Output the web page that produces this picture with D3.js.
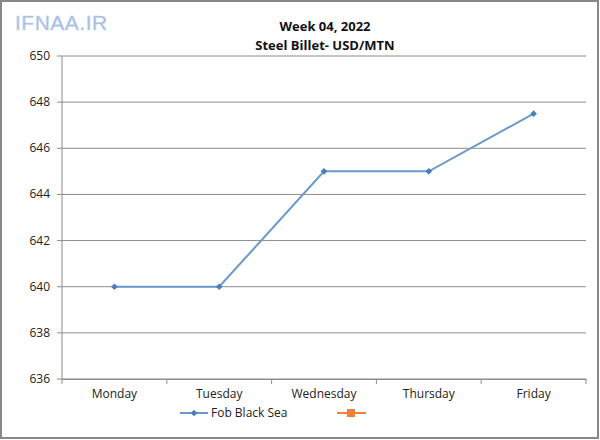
<!DOCTYPE html>
<html>
<head>
<meta charset="utf-8">
<script src="https://cdn.jsdelivr.net/npm/d3@7"></script>
<style>
  body { margin: 0; background: #fff; }
  text { font-family: "Open Sans", "Liberation Sans", sans-serif; }
</style>
</head>
<body>
<div id="chart"></div>
<script>
var days = ["Monday", "Tuesday", "Wednesday", "Thursday", "Friday"];
var fobBlackSea = [640, 640, 645, 645, 647.5];
var yTicks = [636, 638, 640, 642, 644, 646, 648, 650];

var W = 600, H = 440;
var plotLeft = 62, plotRight = 586, plotTop = 56, plotBottom = 379;

var svg = d3.select("#chart")
            .append("svg")
            .attr("width", W)
            .attr("height", H);

svg.append("rect")
   .attr("x", 1).attr("y", 1)
   .attr("width", W - 3).attr("height", H - 3)
   .attr("fill", "#fff")
   .attr("stroke", "#888")
   .attr("stroke-width", 2);

var x = d3.scaleBand().domain(days).range([plotLeft, plotRight]);
var y = d3.scaleLinear().domain([636, 650]).range([plotBottom, plotTop]);

// gridlines
svg.append("g")
   .selectAll("line")
   .data(yTicks)
   .join("line")
   .attr("x1", plotLeft - 5).attr("x2", plotRight)
   .attr("y1", d => y(d)).attr("y2", d => y(d))
   .attr("stroke", "#8c8c8c")
   .attr("stroke-width", 1);

// y axis line
svg.append("line")
   .attr("x1", plotLeft).attr("x2", plotLeft)
   .attr("y1", plotTop).attr("y2", plotBottom)
   .attr("stroke", "#8c8c8c");

svg.append("g")
   .selectAll("text")
   .data(yTicks)
   .join("text")
   .attr("x", plotLeft - 12)
   .attr("y", d => y(d) + 4)
   .attr("text-anchor", "end")
   .attr("font-size", 12)
   .attr("fill", "#222")
   .text(d => d);

// x axis
var xAxis = d3.axisBottom(x).tickSize(0).tickSizeOuter(0);
var gx = svg.append("g")
   .attr("transform", "translate(0," + plotBottom + ")")
   .call(xAxis);
gx.select(".domain").attr("stroke", "#8c8c8c");
gx.selectAll("text")
  .attr("font-size", 12)
  .attr("fill", "#222")
  .attr("dy", "1.35em")
  .style("font-family", "'Open Sans', 'Liberation Sans', sans-serif");

var bounds = days.map(d => x(d)).concat([plotRight]);
svg.append("g")
   .selectAll("line")
   .data(bounds)
   .join("line")
   .attr("x1", d => d).attr("x2", d => d)
   .attr("y1", plotBottom).attr("y2", plotBottom + 5)
   .attr("stroke", "#8c8c8c");

// series
var line = d3.line()
             .x((d, i) => x(days[i]) + x.bandwidth() / 2)
             .y(d => y(d));

svg.append("path")
   .datum(fobBlackSea)
   .attr("d", line)
   .attr("fill", "none")
   .attr("stroke", "#6a9acb")
   .attr("stroke-width", 2);

// square turned 45deg gives the Excel-like diamond
var diamond = d3.symbol().type(d3.symbolSquare).size(22);
svg.append("g")
   .selectAll("path")
   .data(fobBlackSea)
   .join("path")
   .attr("d", diamond)
   .attr("transform", (d, i) => "translate(" + (x(days[i]) + x.bandwidth() / 2) + "," + y(d) + ") rotate(45)")
   .attr("fill", "#4a7ebb");

// titles
svg.append("text")
   .attr("x", 325).attr("y", 31)
   .attr("text-anchor", "middle")
   .attr("font-size", 13)
   .attr("font-weight", "bold")
   .attr("fill", "#111")
   .text("Week 04, 2022");
svg.append("text")
   .attr("x", 325).attr("y", 50)
   .attr("text-anchor", "middle")
   .attr("font-size", 13)
   .attr("font-weight", "bold")
   .attr("fill", "#111")
   .text("Steel Billet- USD/MTN");

// logo
svg.append("text")
   .attr("x", 15).attr("y", 30)
   .attr("font-size", 21)
   .attr("fill", "#9fb8e0")
   .attr("stroke", "#c8d6ee")
   .attr("stroke-width", 0.6)
   .attr("letter-spacing", 0.5)
   .style("font-family", "'Liberation Sans', sans-serif")
   .text("IFNAA.IR");

// legend
var lg = svg.append("g");
lg.append("line")
  .attr("x1", 180).attr("x2", 208).attr("y1", 413).attr("y2", 413)
  .attr("stroke", "#6a9acb").attr("stroke-width", 2);
lg.append("path")
  .attr("d", diamond)
  .attr("transform", "translate(194,413) rotate(45)")
  .attr("fill", "#4a7ebb");
lg.append("text")
  .attr("x", 211).attr("y", 417)
  .attr("font-size", 12)
  .attr("fill", "#222")
  .text("Fob Black Sea");
lg.append("line")
  .attr("x1", 337).attr("x2", 366).attr("y1", 413).attr("y2", 413)
  .attr("stroke", "#f07f3c").attr("stroke-width", 2);
lg.append("rect")
  .attr("x", 347).attr("y", 409).attr("width", 8).attr("height", 8)
  .attr("fill", "#f07f3c");
</script>
</body>
</html>
